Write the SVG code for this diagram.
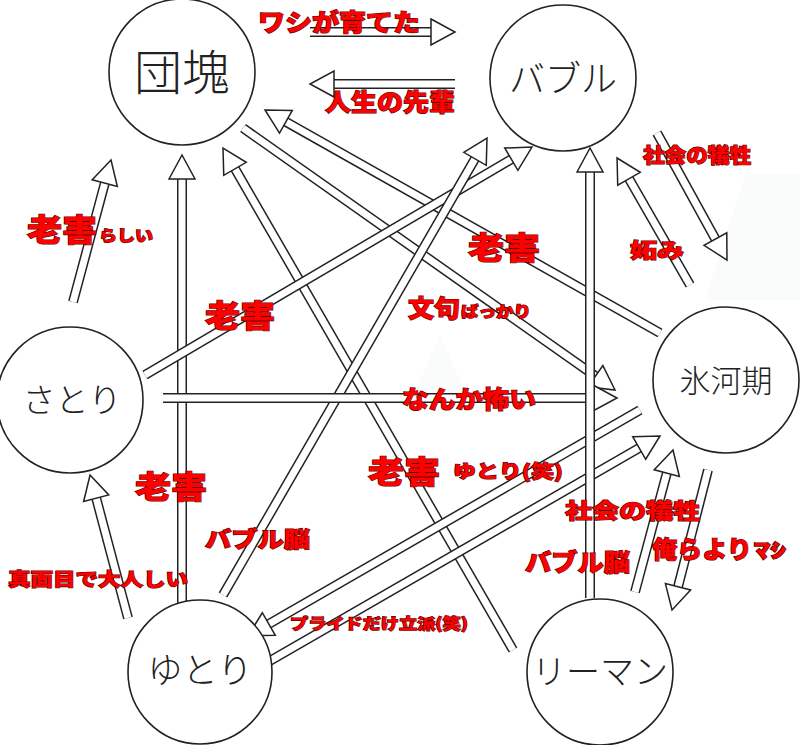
<svg xmlns="http://www.w3.org/2000/svg" width="800" height="745" viewBox="0 0 800 745">
<defs>
<marker id="h" markerUnits="userSpaceOnUse" orient="auto" refX="0" refY="0" markerWidth="30" markerHeight="30" overflow="visible"><path d="M0,-13 L24,0 L0,13 Z" fill="#fff" stroke="#222" stroke-width="1.5" stroke-linejoin="miter"/></marker>
<style>
.o{stroke:#222;stroke-width:10;fill:none}
.i{stroke:#fff;stroke-width:7;fill:none;marker-end:url(#h)}
.n{fill:#fff;stroke:#222;stroke-width:1.6}
.t{font-family:"Noto Sans CJK JP",sans-serif;font-weight:300;fill:#222;text-anchor:middle}
.r{font-family:"Noto Sans CJK JP",sans-serif;font-weight:900;fill:#f00;stroke:#500;stroke-width:1.2;paint-order:stroke}
</style>
</defs>
<rect width="800" height="745" fill="#fff"/>
<polygon points="745,175 800,175 800,300 705,300" fill="#fafbfb"/>
<polygon points="440,335 468,400 412,400" fill="#fafbfb"/>
<g id="connectors">
<g><line class="o" x1="310" y1="32" x2="431" y2="32"/><line class="i" x1="310" y1="32" x2="431" y2="32"/></g>
<g><line class="o" x1="455" y1="84" x2="334" y2="84"/><line class="i" x1="455" y1="84" x2="334" y2="84"/></g>
<g><line class="o" x1="73" y1="302" x2="104.8" y2="183.2"/><line class="i" x1="73" y1="302" x2="104.8" y2="183.2"/></g>
<g><line class="o" x1="182" y1="607" x2="182" y2="179"/><line class="i" x1="182" y1="607" x2="182" y2="179"/></g>
<g><line class="o" x1="513" y1="650" x2="235" y2="168.8"/><line class="i" x1="513" y1="650" x2="235" y2="168.8"/></g>
<g><line class="o" x1="660" y1="333" x2="285.9" y2="121.8"/><line class="i" x1="660" y1="333" x2="285.9" y2="121.8"/></g>
<g><line class="o" x1="243" y1="128" x2="595.4" y2="376.2"/><line class="i" x1="243" y1="128" x2="595.4" y2="376.2"/></g>
<g><line class="o" x1="145" y1="375" x2="511.3" y2="159.2"/><line class="i" x1="145" y1="375" x2="511.3" y2="159.2"/></g>
<g><line class="o" x1="223" y1="595" x2="475" y2="158.8"/><line class="i" x1="223" y1="595" x2="475" y2="158.8"/></g>
<g><line class="o" x1="163" y1="398" x2="593" y2="398"/><line class="i" x1="163" y1="398" x2="593" y2="398"/></g>
<g><line class="o" x1="640" y1="410" x2="268.8" y2="624"/><line class="i" x1="640" y1="410" x2="268.8" y2="624"/></g>
<g><line class="o" x1="268" y1="662" x2="639.2" y2="448"/><line class="i" x1="268" y1="662" x2="639.2" y2="448"/></g>
<g><line class="o" x1="590" y1="598" x2="590" y2="172"/><line class="i" x1="590" y1="598" x2="590" y2="172"/></g>
<g><line class="o" x1="690" y1="285" x2="629" y2="178.8"/><line class="i" x1="690" y1="285" x2="629" y2="178.8"/></g>
<g><line class="o" x1="657" y1="133" x2="715.4" y2="239"/><line class="i" x1="657" y1="133" x2="715.4" y2="239"/></g>
<g><line class="o" x1="635" y1="592" x2="666.8" y2="473.2"/><line class="i" x1="635" y1="592" x2="666.8" y2="473.2"/></g>
<g><line class="o" x1="708" y1="470" x2="678" y2="586.8"/><line class="i" x1="708" y1="470" x2="678" y2="586.8"/></g>
<g><line class="o" x1="128" y1="618" x2="96.2" y2="498.2"/><line class="i" x1="128" y1="618" x2="96.2" y2="498.2"/></g>
</g>
<g id="dankai"><circle class="n" cx="182" cy="72" r="73"/><text class="t" x="182" y="90" font-size="48">団塊</text></g>
<g id="bubble"><circle class="n" cx="563" cy="78" r="73"/><text class="t" x="563" y="92" font-size="36">バブル</text></g>
<g id="hyougaki"><circle class="n" cx="726" cy="380" r="73"/><text class="t" x="726" y="392" font-size="31">氷河期</text></g>
<g id="satori"><circle class="n" cx="70" cy="400" r="73"/><text class="t" x="72" y="412" font-size="33">さとり</text></g>
<g id="yutori"><circle class="n" cx="200" cy="672" r="72"/><text class="t" x="200" y="683" font-size="35">ゆとり</text></g>
<g id="lehman"><circle class="n" cx="600" cy="672" r="73"/><text class="t" x="600" y="684" font-size="34">リーマン</text></g>
<g id="labels">
<text class="r" x="258" y="31" font-size="24" textLength="162" lengthAdjust="spacingAndGlyphs">ワシが育てた</text>
<text class="r" x="325" y="111" font-size="24" textLength="130" lengthAdjust="spacingAndGlyphs">人生の先輩</text>
<text class="r" x="643" y="163" font-size="20" textLength="108" lengthAdjust="spacingAndGlyphs">社会の犠牲</text>
<text class="r" x="630" y="258" font-size="20" textLength="54" lengthAdjust="spacingAndGlyphs">妬み</text>
<text class="r" x="468" y="259" font-size="31" textLength="72" lengthAdjust="spacingAndGlyphs">老害</text>
<text class="r" x="27" y="241" font-size="31" textLength="70" lengthAdjust="spacingAndGlyphs">老害</text>
<text class="r" x="99" y="241" font-size="15" textLength="54" lengthAdjust="spacingAndGlyphs">らしい</text>
<text class="r" x="205" y="327" font-size="31" textLength="70" lengthAdjust="spacingAndGlyphs">老害</text>
<text class="r" x="408" y="317" font-size="24" textLength="52" lengthAdjust="spacingAndGlyphs">文句</text>
<text class="r" x="461" y="317" font-size="15" textLength="70" lengthAdjust="spacingAndGlyphs">ばっかり</text>
<text class="r" x="402" y="408" font-size="24" textLength="134" lengthAdjust="spacingAndGlyphs">なんか怖い</text>
<text class="r" x="368" y="483" font-size="31" textLength="72" lengthAdjust="spacingAndGlyphs">老害</text>
<text class="r" x="453" y="478" font-size="18" textLength="110" lengthAdjust="spacingAndGlyphs">ゆとり(笑)</text>
<text class="r" x="135" y="498" font-size="31" textLength="72" lengthAdjust="spacingAndGlyphs">老害</text>
<text class="r" x="205" y="547" font-size="22" textLength="105" lengthAdjust="spacingAndGlyphs">バブル脳</text>
<text class="r" x="565" y="518" font-size="21" textLength="135" lengthAdjust="spacingAndGlyphs">社会の犠牲</text>
<text class="r" x="525" y="571" font-size="24" textLength="105" lengthAdjust="spacingAndGlyphs">バブル脳</text>
<text class="r" x="652" y="558" font-size="24" textLength="100" lengthAdjust="spacingAndGlyphs">俺らより</text>
<text class="r" x="754" y="558" font-size="20" textLength="32" lengthAdjust="spacingAndGlyphs">ﾏｼ</text>
<text class="r" x="8" y="586" font-size="18" textLength="180" lengthAdjust="spacingAndGlyphs">真面目で大人しい</text>
<text class="r" x="290" y="629" font-size="15" textLength="178" lengthAdjust="spacingAndGlyphs">プライドだけ立派(笑)</text>
</g>
</svg>
